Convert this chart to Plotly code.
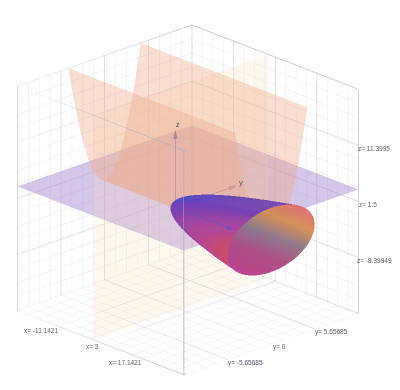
import numpy as np
import plotly.graph_objects as go

# axis limits
x_lim = [-17, 23]
y_lim = [-8, 8]
z_lim = [-12.5, 15.5]

# grid lines
x_minor = [-17, -14.5, -12, -9.5, -7, -4.5, -2, 0.5, 3, 5.5, 8, 10.5, 13, 15.5, 18, 20.5, 23]
y_minor = [-8, -7, -6, -5, -4, -3, -2, -1, 0, 1, 2, 3, 4, 5, 6, 7, 8]
z_minor = [-12.5, -10.75, -9, -7.25, -5.5, -3.75, -2, -0.25, 1.5, 3.25, 5, 6.75, 8.5, 10.25, 12, 13.75, 15.5]
x_major = [-7, 3, 13]
y_major = [-4, 0, 4]
z_major = [-5.5, 1.5, 8.5]

# tick labels
labels = ["x= -11.1421", "x= 3", "x= 17.1421",
          "y= -5.65685", "y= 0", "y= 5.65685",
          "z= 11.3995", "z= 1.5", "z= -8.39949"]
label_px = [(33, 322), (84, 338), (117, 354),
            (237, 355), (271, 339), (323, 324),
            (366, 140), (360, 196), (366, 252)]

# horizontal sheet and vertical sheet
plane_z = 3.0
plane_x = 1.3

# parabolic trough section
trough_y = [-3.3, -3.0, -2.75, -2.5, -2.25, -2.0, -1.75, -1.5, -1.25, -1.0, -0.75, -0.5, -0.25, 0.0,
            0.25, 0.5, 0.75, 1.0, 1.25, 1.5, 1.75, 2.0, 2.25, 2.5, 2.75, 3.0, 3.3]
trough_z = [15.5, 12.8, 10.8, 8.9, 7.2, 5.7, 4.35, 3.2, 2.2, 1.42, 0.8, 0.35, 0.09, 0.0,
            0.09, 0.35, 0.8, 1.42, 2.2, 3.2, 4.35, 5.7, 7.2, 8.9, 10.8, 12.8, 15.5]

# bowl profile
bowl_x = [0, 0.1, 0.4, 0.9, 1.6, 2.5, 3.6, 4.9, 6.4, 8.1, 10, 12.1, 14.4, 16.9, 19.6, 22.95]
bowl_r = [0, 0.26, 0.53, 0.79, 1.05, 1.32, 1.58, 1.84, 2.11, 2.37, 2.64, 2.9, 3.16, 3.43, 3.69, 4.0]
bowl_centre_z = 0.5
cap_r = [0, 1, 2, 3, 4]
cap_x = 22.95

# axis arrows
arrow_len = {"x": 14.0, "y": 5.6, "z": 9.6}
arrow_head = {"x": 1.4, "y": 0.6, "z": 1.0}

AXC = "#a8acc0"
MINOR = "#e8e8e8"
MAJOR = "#d4d4d8"
ARROW = "#5a5a96"
FLAT_LIGHT = dict(ambient=1, diffuse=0, specular=0, fresnel=0)


def flat(c):
    return [[0, c], [1, c]]


fig = go.Figure()

gx, gy = np.meshgrid(x_lim, y_lim)
fig.add_trace(go.Surface(x=gx, y=gy, z=np.full(gx.shape, plane_z), surfacecolor=np.zeros(gx.shape),
                         colorscale=flat("#9a78c8"), opacity=0.42, showscale=False,
                         lighting=FLAT_LIGHT, hoverinfo="skip"))
vy, vz = np.meshgrid(y_lim, z_lim)
fig.add_trace(go.Surface(x=np.full(vy.shape, plane_x), y=vy, z=vz, surfacecolor=np.zeros(vy.shape),
                         colorscale=flat("#fbdcb0"), opacity=0.2, showscale=False,
                         lighting=FLAT_LIGHT, hoverinfo="skip"))
tx = np.array([[x_lim[0]] * len(trough_y), [x_lim[1]] * len(trough_y)])
ty = np.array([trough_y, trough_y])
tz = np.array([trough_z, trough_z])
fig.add_trace(go.Surface(x=tx, y=ty, z=tz, surfacecolor=np.zeros(tx.shape),
                         colorscale=flat("#eea888"), opacity=0.38, showscale=False,
                         lighting=FLAT_LIGHT, hoverinfo="skip"))

# bowl
ang = np.linspace(0, 2 * np.pi, 73)
bx = np.outer(bowl_x, np.ones_like(ang))
by = np.outer(bowl_r, np.cos(ang))
bz = bowl_centre_z + np.outer(bowl_r, np.sin(ang))
bowl_scale = [[0, "#e8503a"], [0.18, "#c04490"], [0.42, "#7c3cb4"], [0.68, "#4a48c4"], [1, "#7a48b0"]]
fig.add_trace(go.Surface(x=bx, y=by, z=bz, surfacecolor=bz, cmin=-3.0, cmax=4.0,
                         colorscale=bowl_scale, opacity=0.86, showscale=False,
                         lighting=FLAT_LIGHT, hoverinfo="skip"))
# cap
cx = np.full((len(cap_r), len(ang)), cap_x)
cy = np.outer(cap_r, np.cos(ang))
cz = bowl_centre_z + np.outer(cap_r, np.sin(ang))
cap_scale = [[0, "#b03c9c"], [0.3, "#a04c90"], [0.55, "#80808a"], [0.78, "#e8a040"], [1, "#ff7a60"]]
fig.add_trace(go.Surface(x=cx, y=cy, z=cz, surfacecolor=cz + 1.0 * cy, cmin=-5, cmax=6,
                         colorscale=cap_scale, opacity=0.8, showscale=False,
                         lighting=FLAT_LIGHT, hoverinfo="skip"))

# major grid lines on the three back walls
lx, ly, lz = [], [], []
for v in x_major:
    lx += [v, v, v, None]; ly += [y_lim[1], y_lim[1], y_lim[0], None]; lz += [z_lim[1], z_lim[0], z_lim[0], None]
for v in y_major:
    lx += [x_lim[0], x_lim[0], x_lim[1], None]; ly += [v, v, v, None]; lz += [z_lim[1], z_lim[0], z_lim[0], None]
for v in z_major:
    lx += [x_lim[1], x_lim[0], x_lim[0], None]; ly += [y_lim[1], y_lim[1], y_lim[0], None]; lz += [v, v, v, None]
fig.add_trace(go.Scatter3d(x=lx, y=ly, z=lz, mode="lines", line=dict(color=MAJOR, width=1.5),
                           showlegend=False, hoverinfo="skip"))

# box outline
ex, ey, ez = [], [], []
for a in x_lim:
    for b in y_lim:
        ex += [a, a, None]; ey += [b, b, None]; ez += [z_lim[0], z_lim[1], None]
    for c in z_lim:
        ex += [a, a, None]; ey += [y_lim[0], y_lim[1], None]; ez += [c, c, None]
for b in y_lim:
    for c in z_lim:
        ex += [x_lim[0], x_lim[1], None]; ey += [b, b, None]; ez += [c, c, None]
fig.add_trace(go.Scatter3d(x=ex, y=ey, z=ez, mode="lines", line=dict(color=AXC, width=1.5),
                           showlegend=False, hoverinfo="skip"))

# axis arrows
for key, (dx, dy, dz) in {"x": (1, 0, 0), "y": (0, 1, 0), "z": (0, 0, 1)}.items():
    L = arrow_len[key]
    H = arrow_head[key]
    fig.add_trace(go.Scatter3d(x=[0, dx * L], y=[0, dy * L], z=[0, dz * L], mode="lines",
                               line=dict(color=ARROW, width=1.5), showlegend=False, hoverinfo="skip"))
    fig.add_trace(go.Cone(x=[dx * L], y=[dy * L], z=[dz * L], u=[dx * H], v=[dy * H], w=[dz * H], anchor="tip",
                          sizemode="raw", sizeref=1.0, showscale=False,
                          colorscale=flat(ARROW), hoverinfo="skip", lighting=FLAT_LIGHT))

axis_common = dict(title="", showticklabels=False, showbackground=False, showline=False,
                   gridcolor=MINOR, gridwidth=1, zeroline=False,
                   showspikes=False, tickmode="array", ticks="")

annots = [dict(x=px / 400, y=1 - py / 390, xref="paper", yref="paper", text=t, showarrow=False,
               xanchor="center", yanchor="middle",
               font=dict(size=6.5, color="#5a6070", family="Liberation Sans"))
          for t, (px, py) in zip(labels, label_px)]
annots += [dict(x=233 / 400, y=1 - 175 / 390, xref="paper", yref="paper", text="y", showarrow=False,
                xanchor="center", yanchor="middle",
                font=dict(size=8, color="#5a6070", family="Liberation Sans")),
           dict(x=170 / 400, y=1 - 116 / 390, xref="paper", yref="paper", text="z", showarrow=False,
                xanchor="center", yanchor="middle",
                font=dict(size=7, color="#404050", family="Liberation Sans"))]

fig.update_layout(
    width=400, height=390, margin=dict(l=0, r=0, t=0, b=0), paper_bgcolor="white", showlegend=False,
    annotations=annots,
    scene=dict(
        domain=dict(x=[0, 0.94], y=[0, 0.974]),
        aspectmode="manual",
        aspectratio=dict(x=1.27, y=1.27, z=1.27),
        bgcolor="white",
        xaxis=dict(axis_common, range=x_lim, tickvals=x_minor),
        yaxis=dict(axis_common, range=y_lim, tickvals=y_minor),
        zaxis=dict(axis_common, range=z_lim, tickvals=z_minor),
        camera=dict(eye=dict(x=1.28 + 0.04075, y=-1.22 + 0.0198, z=0.70 - 0.0395), up=dict(x=0, y=0, z=1),
                    center=dict(x=0.04075, y=0.0198, z=-0.0395), projection=dict(type="orthographic")),
    ),
)
fig.write_html("out.html")
